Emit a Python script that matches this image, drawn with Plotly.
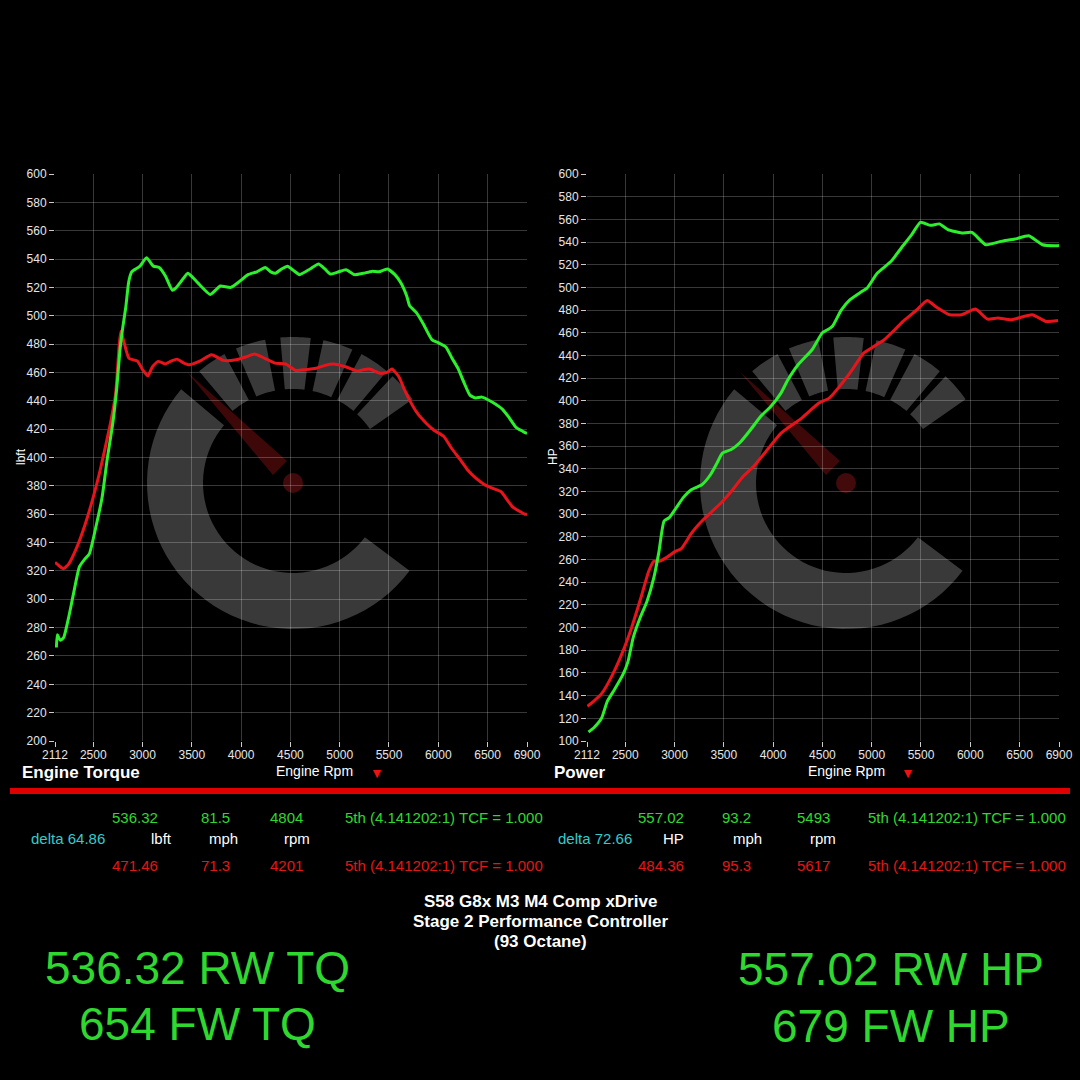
import numpy as np
import plotly.graph_objects as go

# ---- dyno data ----
tq_rpm_stage2 = [2126, 2136, 2165, 2200, 2250, 2300, 2360, 2410, 2460, 2530, 2590, 2640, 2700, 2740,
                 2770, 2800, 2830, 2860, 2890, 2930, 2975, 3040, 3110, 3169, 3232, 3302, 3337, 3400,
                 3459, 3510, 3564, 3686, 3740, 3790, 3895, 3980, 4070, 4160, 4244, 4300, 4349, 4410,
                 4471, 4530, 4593, 4700, 4785, 4850, 4907, 4990, 5064, 5151, 5240, 5326, 5400, 5483,
                 5560, 5623, 5680, 5710, 5780, 5850, 5937, 6000, 6077, 6140, 6199, 6260, 6321, 6380,
                 6443, 6550, 6652, 6720, 6792, 6880, 6900]
tq_stage2 = [266, 275, 271, 273, 287, 304, 323, 328, 332, 352, 372, 398, 425, 450,
             475, 492, 506, 524, 531, 533, 535, 541, 535, 534, 528, 518, 519.5, 525,
             530, 527, 523, 515, 518, 521, 520, 524, 529, 531, 534, 531, 530, 533,
             535, 532, 529, 533, 536.5, 533, 529.4, 531, 532.5, 529, 530, 531.3, 531, 533,
             529, 523, 514, 507, 502, 494, 483, 481, 478, 470, 463, 453, 444, 442,
             442.6, 439, 434, 428, 421, 417.6, 417]

tq_rpm_stock = [2112, 2147, 2199, 2252, 2321, 2409, 2500, 2570, 2674, 2727, 2762, 2780, 2817, 2862,
                2949, 3000, 3054, 3100, 3159, 3229, 3290, 3351, 3410, 3473, 3580, 3700, 3822, 3950,
                4050, 4136, 4240, 4345, 4450, 4553, 4650, 4763, 4850, 4937, 5060, 5181, 5240, 5303,
                5408, 5480, 5530, 5600, 5650, 5705, 5780, 5880, 5960, 6054, 6140, 6228, 6300, 6373,
                6478, 6560, 6635, 6700, 6757, 6879, 6900]
tq_stock = [326, 324, 321.6, 325, 334.6, 351, 372, 391, 424, 445, 478, 489, 480, 470,
            468, 462, 457.6, 464, 467.8, 466, 468, 469.4, 467, 465.4, 468, 472.5, 468.5, 469,
            471, 473, 470, 466.6, 466, 461.4, 462, 463, 465, 466, 464, 461, 462, 462.4,
            459.5, 460, 462.4, 457, 449, 441, 432, 424, 419, 415, 406, 398, 391, 386,
            380.5, 378, 376, 370, 365, 360, 360]

hp_rpm_stage2 = [2127, 2179, 2259, 2318, 2388, 2476, 2528, 2580, 2650, 2720, 2790, 2842, 2894, 2947,
                 3017, 3086, 3174, 3278, 3366, 3430, 3487, 3575, 3662, 3767, 3871, 3976, 4081, 4150,
                 4255, 4395, 4499, 4552, 4604, 4691, 4778, 4901, 4953, 5058, 5197, 5302, 5406, 5494,
                 5598, 5686, 5773, 5913, 6017, 6157, 6314, 6453, 6593, 6733, 6872, 6900]
hp_stage2 = [108, 111.5, 120, 135, 145, 158.5, 170, 191, 208.5, 223, 244, 267, 294, 297,
             305.6, 314.4, 321.8, 326, 335, 345, 354, 357, 363, 374, 386, 395, 407, 418.5,
             432, 445, 460, 462.6, 466, 480, 489, 496.5, 499.4, 512.6, 523, 535, 546.5, 557.4,
             554.7, 556, 551, 548, 548.5, 537.6, 540.6, 542.6, 545.6, 537.6, 536.8, 537]

hp_rpm_stock = [2116, 2179, 2266, 2371, 2476, 2563, 2668, 2738, 2790, 2842, 2912, 3000, 3069, 3174,
                3261, 3383, 3488, 3592, 3697, 3801, 3941, 4081, 4290, 4464, 4569, 4778, 4918, 5023,
                5127, 5232, 5337, 5459, 5564, 5651, 5791, 5913, 6052, 6175, 6279, 6419, 6628, 6768,
                6890]
hp_stock = [130.6, 135, 142.4, 158.5, 179, 199.7, 229, 249.7, 258.5, 258.5, 261.5, 266.8, 269.7, 283.5,
            292.4, 302.6, 311.5, 321.8, 333.5, 342, 356.8, 371.5, 384.7, 398, 402.4, 424.4, 442, 448,
            453.8, 462.6, 471.5, 480.3, 488.5, 483, 475.9, 475.9, 480.9, 472, 473, 471.5, 475.9, 470,
            470.9]

x_ticks = [2112, 2500, 3000, 3500, 4000, 4500, 5000, 5500, 6000, 6500, 6900]
tq_ticks = list(range(200, 601, 20))
hp_ticks = list(range(100, 601, 20))

tq_peak = ["536.32", "81.5", "4804"]
tq_peak_stock = ["471.46", "71.3", "4201"]
hp_peak = ["557.02", "93.2", "5493"]
hp_peak_stock = ["484.36", "95.3", "5617"]
gear_note = "5th (4.141202:1) TCF = 1.000"

GREEN = "#2cf02c"
RED = "#e8141c"
TXT_GREEN = "#2fd82f"
TXT_RED = "#e01818"
W = 1080


def px(x, y):
    # pixel position on the 1080x1080 sheet -> paper coords
    return x / W, 1 - y / W


def poly_path(points):
    pts = [px(x, y) for x, y in points]
    return "M " + " L ".join(f"{a:.5f},{b:.5f}" for a, b in pts) + " Z"


def ring(cx, cy, r0, r1, a0, a1, n=48):
    t = np.radians(np.linspace(a0, a1, n))
    outer = [(cx + r1 * np.cos(a), cy - r1 * np.sin(a)) for a in t]
    inner = [(cx + r0 * np.cos(a), cy - r0 * np.sin(a)) for a in t[::-1]]
    return poly_path(outer + inner)


def watermark(cx, cy):
    # grey "C" gauge logo behind each chart
    out = []
    grey = "#393939"
    out.append(dict(type="path", path=ring(cx, cy, 90, 146, 140, 323), fillcolor=grey,
                    line_width=0, layer="below", xref="paper", yref="paper"))
    for a0, a1 in [(118, 130), (101, 113), (83, 95), (66, 78), (50, 62), (35, 47)]:
        out.append(dict(type="path", path=ring(cx, cy, 94, 146, a0, a1, 12), fillcolor=grey,
                        line_width=0, layer="below", xref="paper", yref="paper"))
    needle = [(cx - 106, cy - 111), (cx - 6, cy - 22), (cx - 20, cy - 8)]
    out.append(dict(type="path", path=poly_path(needle), fillcolor="#3e0808",
                    line_width=0, layer="below", xref="paper", yref="paper"))
    x0, y0 = px(cx - 10, cy + 10)
    x1, y1 = px(cx + 10, cy - 10)
    out.append(dict(type="circle", x0=x0, y0=y0, x1=x1, y1=y1, fillcolor="#420a0a",
                    line_width=0, layer="below", xref="paper", yref="paper"))
    return out


fig = go.Figure()
fig.add_trace(go.Scatter(x=tq_rpm_stock, y=tq_stock, mode="lines", xaxis="x", yaxis="y",
                         line=dict(color=RED, width=3, shape="spline", smoothing=0.5)))
fig.add_trace(go.Scatter(x=tq_rpm_stage2, y=tq_stage2, mode="lines", xaxis="x", yaxis="y",
                         line=dict(color=GREEN, width=3, shape="spline", smoothing=0.5)))
fig.add_trace(go.Scatter(x=hp_rpm_stock, y=hp_stock, mode="lines", xaxis="x2", yaxis="y2",
                         line=dict(color=RED, width=3, shape="spline", smoothing=0.5)))
fig.add_trace(go.Scatter(x=hp_rpm_stage2, y=hp_stage2, mode="lines", xaxis="x2", yaxis="y2",
                         line=dict(color=GREEN, width=3, shape="spline", smoothing=0.5)))

tick_font = dict(family="Liberation Sans, Arial", size=12, color="#e6e6e6")
grid = "rgba(255,255,255,0.22)"


def xax(dom, anchor):
    return dict(domain=dom, anchor=anchor, range=[2112, 6900], tickmode="array", tickvals=x_ticks,
                ticks="outside", ticklen=5, tickcolor="#cccccc", showgrid=False, zeroline=False,
                showline=False, tickfont=tick_font, automargin=False, ticklabelstandoff=-2,
                minor=dict(tickmode="array", tickvals=x_ticks[1:], showgrid=True, gridcolor=grid,
                           gridwidth=1, ticks=""))


def yax(dom, anchor, lo, ticks):
    return dict(domain=dom, anchor=anchor, range=[lo, 600], tickmode="array", tickvals=ticks,
                ticks="outside", ticklen=5, tickcolor="#cccccc", showgrid=False, zeroline=False,
                showline=False, tickfont=tick_font, automargin=False,
                minor=dict(tickmode="array", tickvals=ticks[1:], showgrid=True, gridcolor=grid,
                           gridwidth=1, ticks=""))


ydom = [1 - 741 / W, 1 - 174 / W]
fig.update_layout(
    width=W, height=W, margin=dict(l=0, r=0, t=0, b=0, autoexpand=False),
    paper_bgcolor="black", plot_bgcolor="rgba(0,0,0,0)", showlegend=False,
    xaxis=xax([55 / W, 527 / W], "y"),
    yaxis=yax(ydom, "x", 200, tq_ticks),
    xaxis2=xax([587 / W, 1059 / W], "y2"),
    yaxis2=yax(ydom, "x2", 100, hp_ticks),
)

shapes = watermark(293, 483) + watermark(846, 483)
x0, y0 = px(10, 794)
x1, y1 = px(1070, 788)
shapes.append(dict(type="rect", xref="paper", yref="paper", x0=x0, y0=y0, x1=x1, y1=y1,
                   fillcolor="#e00000", line_width=0))
fig.update_layout(shapes=shapes)

ann = []


def note(text, x, y, size, color="white", anchor="center", family="Liberation Sans, Arial", angle=0):
    a, b = px(x, y)
    ann.append(dict(text=text, x=a, y=b, xref="paper", yref="paper", showarrow=False,
                    xanchor=anchor, yanchor="middle", textangle=angle,
                    font=dict(family=family, size=size, color=color)))


# chart captions
note("<b>Engine Torque</b>", 20, 772, 17, anchor="left")
note("<b>Power</b>", 552, 772, 17, anchor="left")
note("Engine Rpm", 314, 771, 14)
note("Engine Rpm", 846, 771, 14)
note("▼", 377, 773, 14, color="#ee1111")
note("▼", 908, 773, 14, color="#ee1111")
note("lbft", 21, 457, 12, angle=-90)
note("HP", 553, 457, 12, angle=-90)

# peak readouts
fs = 15
for vals, note_y, col in [(tq_peak, 817, TXT_GREEN), (tq_peak_stock, 865, TXT_RED)]:
    note(vals[0], 160, note_y, fs, col, "right")
    note(vals[1], 215, note_y, fs, col)
    note(vals[2], 286, note_y, fs, col)
    note(gear_note, 343, note_y, fs, col, "left")
for vals, note_y, col in [(hp_peak, 817, TXT_GREEN), (hp_peak_stock, 865, TXT_RED)]:
    note(vals[0], 686, note_y, fs, col, "right")
    note(vals[1], 736, note_y, fs, col)
    note(vals[2], 813, note_y, fs, col)
    note(gear_note, 866, note_y, fs, col, "left")

note("delta 64.86", 29, 838, fs, "#33cccc", "left")
note("lbft", 161, 838, fs)
note("mph", 223, 838, fs)
note("rpm", 297, 838, fs)
note("delta 72.66", 556, 838, fs, "#33cccc", "left")
note("HP", 673, 838, fs)
note("mph", 747, 838, fs)
note("rpm", 823, 838, fs)

# title block
note("<b>S58 G8x M3 M4 Comp xDrive</b>", 540, 901, 17)
note("<b>Stage 2 Performance Controller</b>", 540, 921, 17)
note("<b>(93 Octane)</b>", 540, 941, 17)

# big numbers
note("536.32 RW TQ", 197, 968, 46, TXT_GREEN)
note("654 FW TQ", 197, 1024, 46, TXT_GREEN)
note("557.02 RW HP", 891, 969, 46, TXT_GREEN)
note("679 FW HP", 891, 1026, 46, TXT_GREEN)

fig.update_layout(annotations=ann)

fig.write_html("out.html", config={"displayModeBar": False},
               post_script="document.body.style.margin='0';")
